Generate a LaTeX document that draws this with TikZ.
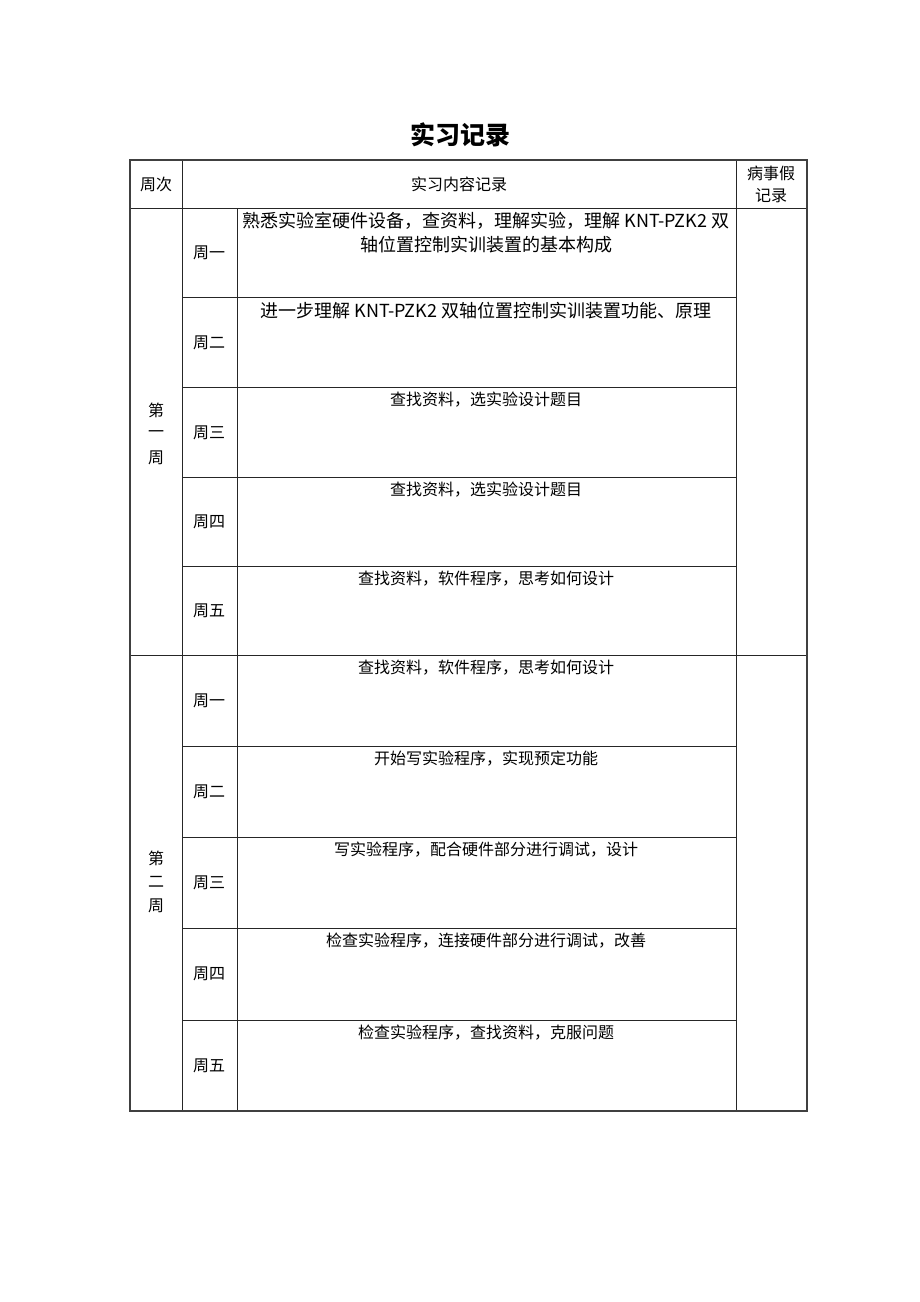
\documentclass[tikz,border=0pt]{standalone}
\usepackage{fontspec}
\setmainfont{Noto Sans CJK SC}
\begin{document}
\begin{tikzpicture}[x=1pt,y=-1pt,
  grid/.style={draw=black!85,line width=0.9pt},
  outer/.style={draw=black!75,line width=1.1pt},
  txt/.style={inner sep=0pt,font=\fontsize{16}{19}\selectfont},
  big/.style={inner sep=0pt,font=\fontsize{18}{24}\selectfont,align=center},
  ttl/.style={inner sep=0pt,font=\fontsize{25}{28}\selectfont\bfseries}]
\useasboundingbox (0,0) rectangle (920,1302);
% title
\node[ttl] (title) at (460,135) {实习记录};
% grid lines
\foreach \y in {208,297,387,477,566,655,746,837,928,1020}
  \draw[grid] (182,\y) -- (736,\y);
\draw[grid] (130,208) -- (807,208);
\draw[grid] (130,655) -- (807,655);
\draw[grid] (182,160) -- (182,1111);
\draw[grid] (237,208) -- (237,1111);
\draw[grid] (736,160) -- (736,1111);
\draw[outer] (130,160) rectangle (807,1111);
% header
\node[txt] (h1) at (156,184) {周次};
\node[txt] (h2) at (459,184) {实习内容记录};
\node[txt] (h3) at (771,173) {病事假};
\node[txt] (h4) at (771,196) {记录};
% week labels
\node[txt] (w1a) at (156,410) {第};
\node[txt] (w1b) at (156,434) {一};
\node[txt] (w1c) at (156,458) {周};
\node[txt] (w2a) at (156,858) {第};
\node[txt] (w2b) at (156,882) {二};
\node[txt] (w2c) at (156,906) {周};
% day labels
\node[txt] (d11) at (209,253) {周一};
\node[txt] (d12) at (209,343) {周二};
\node[txt] (d13) at (209,433) {周三};
\node[txt] (d14) at (209,522) {周四};
\node[txt] (d15) at (209,611) {周五};
\node[txt] (d21) at (209,701) {周一};
\node[txt] (d22) at (209,792) {周二};
\node[txt] (d23) at (209,883) {周三};
\node[txt] (d24) at (209,974) {周四};
\node[txt] (d25) at (209,1066) {周五};
% contents
\node[big,anchor=north] (c11) at (486,212) {熟悉实验室硬件设备，查资料，理解实验，理解 KNT-PZK2 双\\轴位置控制实训装置的基本构成};
\node[big] (c12) at (486,311) {进一步理解 KNT-PZK2 双轴位置控制实训装置功能、原理};
\node[txt] (c13) at (486,400) {查找资料，选实验设计题目};
\node[txt] (c14) at (486,490) {查找资料，选实验设计题目};
\node[txt] (c15) at (486,579) {查找资料，软件程序，思考如何设计};
\node[txt] (c21) at (486,668) {查找资料，软件程序，思考如何设计};
\node[txt] (c22) at (486,759) {开始写实验程序，实现预定功能};
\node[txt] (c23) at (486,850) {写实验程序，配合硬件部分进行调试，设计};
\node[txt] (c24) at (486,941) {检查实验程序，连接硬件部分进行调试，改善};
\node[txt] (c25) at (486,1033) {检查实验程序，查找资料，克服问题};
\end{tikzpicture}
\end{document}
